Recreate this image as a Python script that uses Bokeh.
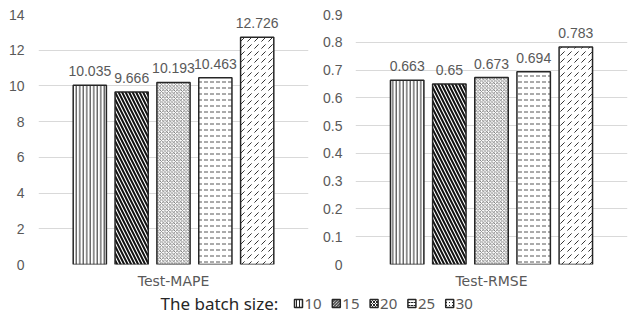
from bokeh.plotting import figure
from bokeh.layouts import column, row
from bokeh.models import ColumnDataSource, FactorRange, FixedTicker, Range1d, Label
from bokeh.transform import dodge
from bokeh.core.properties import value
from bokeh.embed import file_html
from bokeh.resources import INLINE

batch_sizes = ["10", "15", "20", "25", "30"]
mape = [10.035, 9.666, 10.193, 10.463, 12.726]
rmse = [0.663, 0.65, 0.673, 0.694, 0.783]
mape_ticks = [0, 2, 4, 6, 8, 10, 12, 14]
rmse_ticks = [0, 0.1, 0.2, 0.3, 0.4, 0.5, 0.6, 0.7, 0.8, 0.9]
mape_label = "Test-MAPE"
rmse_label = "Test-RMSE"
legend_title = "The batch size:"

patterns = ["vertical_line", "left_diagonal_line", "diagonal_cross", "horizontal_dash", "right_diagonal_dash"]
scales = [3.5, 7, 3.5, 6, 7]
weights = [1, 2, 0.8, 1, 1]
hcolors = ["#262626", "#111111", "#666666", "#555555", "#333333"]
offsets = [-0.31, -0.155, 0.0, 0.155, 0.31]
BAR_W = 0.123
GRID = "#d9d9d9"
TXT = "#595959"
FONT = "Liberation Sans"
PANEL_H = 291
LEG_H = 322 - PANEL_H


def make_panel(cat, vals, ticks, ymax, w, h, left, right, top, bottom, fmt, ystand):
    p = figure(width=w, height=h, x_range=FactorRange(factors=cat), y_range=Range1d(0, ymax),
               output_backend="svg", toolbar_location=None,
               min_border_left=left, min_border_right=right,
               min_border_top=top, min_border_bottom=bottom)
    p.outline_line_color = None
    p.xgrid.grid_line_color = None
    p.ygrid.grid_line_color = GRID
    p.ygrid.grid_line_width = 1
    p.yaxis.ticker = FixedTicker(ticks=ticks)
    p.yaxis.major_label_overrides = {0: "0"}
    for ax in (p.xaxis[0], p.yaxis[0]):
        ax.axis_line_color = None
        ax.major_tick_line_color = None
        ax.minor_tick_line_color = None
        ax.major_tick_out = 0
        ax.major_tick_in = 0
        ax.minor_tick_out = 0
        ax.minor_tick_in = 0
        ax.major_label_text_color = TXT
        ax.major_label_text_font_size = "14px"
        ax.major_label_text_font = FONT
    p.yaxis.major_label_standoff = ystand
    p.xaxis.major_label_standoff = 8
    p.xaxis.major_label_text_font = "DejaVu Sans"
    p.xaxis.major_label_text_font_size = "14px"
    p.x_range.range_padding = 0
    for i, bs in enumerate(batch_sizes):
        src = ColumnDataSource(dict(c=cat, v=[vals[i]], t=[fmt(vals[i])]))
        x = dodge("c", offsets[i], range=p.x_range)
        p.vbar(x=x, top="v", width=BAR_W, source=src, fill_color="white",
               line_color="#262626", line_width=1.5,
               hatch_pattern=patterns[i], hatch_color=hcolors[i],
               hatch_scale=scales[i], hatch_weight=weights[i])
        p.text(x=x, y="v", text="t", source=src, text_align="center",
               text_baseline="bottom", y_offset=-9, text_color=TXT,
               text_font=value(FONT), text_font_size="14px")
    return p


p1 = make_panel([mape_label], mape, mape_ticks, 14, 320, PANEL_H, 38, 12, 14, 20,
                lambda v: f"{v:g}", 14)
p2 = make_panel([rmse_label], rmse, rmse_ticks, 0.9, 308, PANEL_H, 33, 1, 12, 20,
                lambda v: f"{v:g}", 13)

# legend strip
pl = figure(width=628, height=LEG_H, x_range=Range1d(0, 628), y_range=Range1d(0, LEG_H),
            output_backend="svg", toolbar_location=None,
            min_border_left=0, min_border_right=0, min_border_top=0, min_border_bottom=0)
pl.axis.visible = False
pl.grid.visible = False
pl.outline_line_color = None
ly = LEG_H - (303 - PANEL_H)
pl.add_layout(Label(x=160, y=ly, text=legend_title, text_font="Noto Sans",
                    text_font_size="17px", text_color="#262626",
                    text_baseline="middle", text_align="left"))
leg_x0 = 294
leg_step = 37.8
for i, bs in enumerate(batch_sizes):
    xi = leg_x0 + i * leg_step
    pl.rect(x=[xi + 4], y=[ly], width=8, height=8, fill_color="white",
            line_color="#262626", line_width=1.5,
            hatch_pattern=patterns[i], hatch_color="#262626",
            hatch_scale=3, hatch_weight=1)
    pl.text(x=[xi + 10], y=[ly], text=[bs], text_baseline="middle",
            text_align="left", text_color=TXT, text_font=value("Noto Sans"),
            text_font_size="15px")

layout = column(row(p1, p2), pl)
open("out.html", "w").write(file_html(layout, INLINE))
